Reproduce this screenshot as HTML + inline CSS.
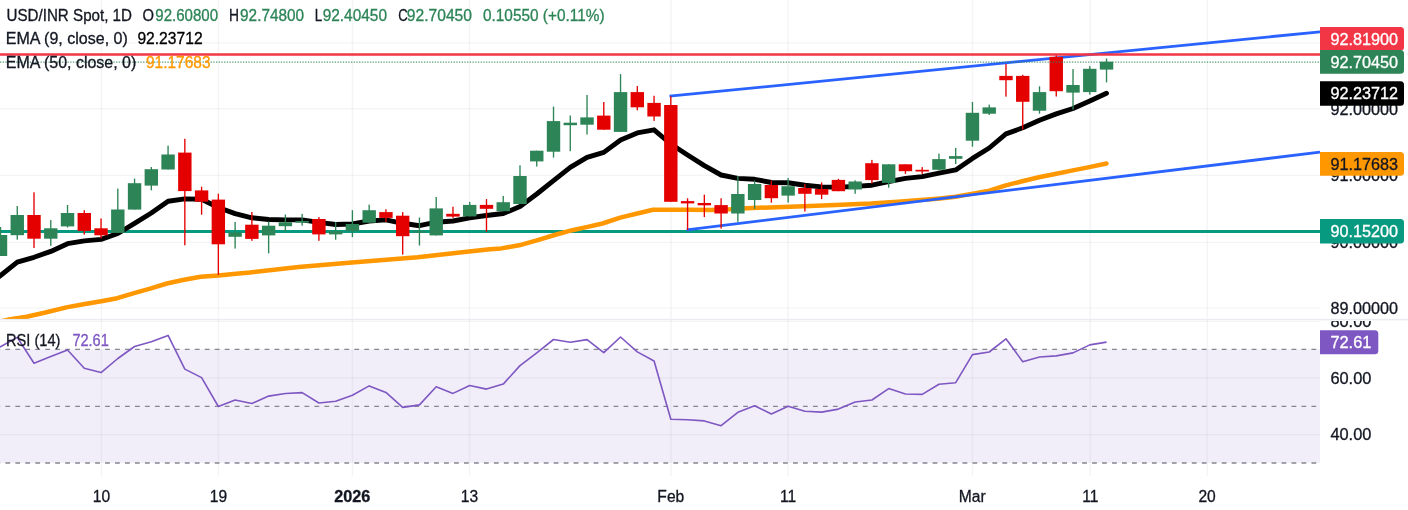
<!DOCTYPE html>
<html><head><meta charset="utf-8"><title>USD/INR Spot chart</title>
<style>html,body{margin:0;padding:0;background:#fff;width:1408px;height:510px;overflow:hidden}
svg{display:block;font-family:"Liberation Sans",sans-serif;will-change:transform}</style></head><body>
<svg width="1408" height="510" viewBox="0 0 1408 510">
<defs>
<clipPath id="cm"><rect x="0" y="0" width="1320" height="319.3"/></clipPath>
<clipPath id="cr"><rect x="0" y="321" width="1320" height="155"/></clipPath>
<clipPath id="cra"><rect x="1320" y="321" width="88" height="155"/></clipPath>
<clipPath id="cma"><rect x="1320" y="0" width="88" height="319.3"/></clipPath>
</defs>
<rect x="0" y="0" width="1408" height="510" fill="#fff"/>
<g stroke="#2a2e39" stroke-opacity="0.05" stroke-width="1.4">
<line x1="101.4" y1="0" x2="101.4" y2="476"/>
<line x1="218.4" y1="0" x2="218.4" y2="476"/>
<line x1="352.4" y1="0" x2="352.4" y2="476"/>
<line x1="469.5" y1="0" x2="469.5" y2="476"/>
<line x1="671" y1="0" x2="671" y2="476"/>
<line x1="788" y1="0" x2="788" y2="476"/>
<line x1="972.4" y1="0" x2="972.4" y2="476"/>
<line x1="1090.3" y1="0" x2="1090.3" y2="476"/>
<line x1="1207.2" y1="0" x2="1207.2" y2="476"/>
<line x1="0" y1="42.9" x2="1320" y2="42.9"/>
<line x1="0" y1="108.8" x2="1320" y2="108.8"/>
<line x1="0" y1="175.4" x2="1320" y2="175.4"/>
<line x1="0" y1="242.4" x2="1320" y2="242.4"/>
<line x1="0" y1="308.1" x2="1320" y2="308.1"/>
</g>
<g clip-path="url(#cr)">
<rect x="0" y="349.3" width="1320" height="113.6" fill="#7e57c2" fill-opacity="0.1"/>
<g stroke="#2a2e39" stroke-opacity="0.05" stroke-width="1.4">
<line x1="0" y1="321.4" x2="1320" y2="321.4"/>
<line x1="0" y1="378" x2="1320" y2="378"/>
<line x1="0" y1="434.6" x2="1320" y2="434.6"/>
</g>
<g stroke="#787b86" stroke-opacity="0.9" stroke-width="1.35" stroke-dasharray="4.8 5.17" stroke-dashoffset="4.6">
<line x1="0" y1="349.4" x2="1320" y2="349.4"/>
<line x1="0" y1="406.3" x2="1320" y2="406.3"/>
<line x1="0" y1="463" x2="1320" y2="463"/>
</g>
<polyline points="-16,352 0.5,346.8 17.26,337.4 34.02,363.2 50.77,356.6 67.53,350 84.29,368.3 101.05,372.6 117.81,358.5 134.56,346.5 151.32,341.8 168.08,335.4 184.84,369.1 201.6,377.6 218.35,406.5 235.11,400 251.87,403.5 268.63,396.1 285.39,393.5 302.14,392.6 318.9,403 335.66,401.2 352.42,395.2 369.18,385.9 385.93,392.4 402.69,407.4 419.45,404.9 436.21,386.8 452.97,393.4 469.72,385.5 486.48,389.1 503.24,384.1 520,365.6 536.76,352.8 553.51,339.5 570.27,342.3 587.03,339.6 603.79,352.7 620.55,337 637.3,351.9 654.06,361 670.82,419.2 687.58,419.8 704.34,420.9 721.09,425.7 737.85,412.3 754.61,405.8 771.37,414 788.13,406.3 804.88,411.2 821.64,412.1 838.4,409.1 855.16,402 871.92,400 888.67,388.6 905.43,394 922.19,394.4 938.95,384.3 955.71,382.7 972.46,354.6 989.22,352 1005.98,338.8 1022.74,361.7 1039.5,357 1056.25,355.9 1073.01,352.9 1089.77,344.9 1106.53,342.1" fill="none" stroke="#7e57c2" stroke-width="1.6" stroke-linejoin="round"/>
</g>
<g clip-path="url(#cm)">
<line x1="0" y1="231.5" x2="1320" y2="231.5" stroke="#089981" stroke-width="2.8"/>
<polyline points="0,321.5 8.9,319.5 26.6,316.7 44.4,312.8 67.5,307.1 83.5,304.3 101.2,301.3 117.2,298.2 134.9,292.9 150.9,288.3 166.9,283.5 182.9,280 200.6,276.8 218.4,275.5 236.1,273.7 250,272.5 298.6,267.1 351.9,262.5 417.6,257.2 469,251.5 490,249.2 501.3,248.4 519.1,245.3 536.8,240.4 554.6,235 572.3,230.2 586.5,227.1 602.5,223.5 620.3,217.6 636.2,213.7 653.1,209.8 670,209.8 689.5,209.8 710.8,209.9 730,209.2 746.6,208.2 769.7,207.4 803.5,206.3 835.4,205 870.9,203.6 897.6,201.7 927.7,199.5 940,198.4 955.5,196.7 972.9,193.6 989.4,190.6 1005.8,185.4 1022.3,181.2 1038.8,177.3 1055.2,174 1072.8,170.4 1089.3,167.1 1106.5,163.5" fill="none" stroke="#ff9800" stroke-width="4.5" stroke-linejoin="round" stroke-linecap="round"/>
<polyline points="-16,288 0.5,275.5 17.26,262.2 34.02,257.3 50.77,251.4 67.53,243.7 84.29,240.9 101.05,239.4 117.81,233.5 134.56,223.3 151.32,213 168.08,201.3 184.84,198.9 201.6,199.2 218.35,207.5 235.11,213.6 251.87,217.8 268.63,219.5 285.39,219.9 302.14,219.9 318.9,222.4 335.66,224.5 352.42,224 369.18,221 385.93,219.9 402.69,223.3 419.45,225.7 436.21,222.2 452.97,221 469.72,217.8 486.48,215.5 503.24,213.5 520,206.6 536.76,194 553.51,180.6 570.27,167.4 587.03,157.3 603.79,152.4 620.55,140 637.3,132.9 654.06,129.8 670.82,144 687.58,155 704.34,165.6 721.09,175 737.85,178.4 754.61,179.3 771.37,182.5 788.13,182.8 804.88,185.2 821.64,186.9 838.4,187.3 855.16,186.4 871.92,185.2 888.67,181.6 905.43,178.4 922.19,176.6 938.95,173.1 955.71,169.9 972.46,158.4 989.22,148 1005.98,133.9 1022.74,127.8 1039.5,120.3 1056.25,113.9 1073.01,108.5 1089.77,101 1106.53,93.2" fill="none" stroke="#000" stroke-width="4.9" stroke-linejoin="round" stroke-linecap="round"/>
<line x1="669.5" y1="96.2" x2="1320" y2="31.8" stroke="#2962ff" stroke-width="2.8"/>
<line x1="686.7" y1="229.9" x2="1320" y2="152.1" stroke="#2962ff" stroke-width="2.8"/>
<rect x="-0.18" y="227" width="1.35" height="29" fill="#2d8456"/>
<rect x="-6.2" y="235" width="13.4" height="21" fill="#2d8456"/>
<rect x="16.58" y="206" width="1.35" height="33.7" fill="#2d8456"/>
<rect x="10.56" y="215" width="13.4" height="20.2" fill="#2d8456"/>
<rect x="33.34" y="192.3" width="1.35" height="55.7" fill="#e50000"/>
<rect x="27.32" y="215" width="13.4" height="23.7" fill="#e50000"/>
<rect x="50.1" y="220.1" width="1.35" height="25.7" fill="#2d8456"/>
<rect x="44.07" y="228.3" width="13.4" height="10.4" fill="#2d8456"/>
<rect x="66.86" y="205" width="1.35" height="22.5" fill="#2d8456"/>
<rect x="60.83" y="213" width="13.4" height="13.4" fill="#2d8456"/>
<rect x="83.61" y="210.2" width="1.35" height="24.4" fill="#e50000"/>
<rect x="77.59" y="213" width="13.4" height="17.9" fill="#e50000"/>
<rect x="100.37" y="218.4" width="1.35" height="20" fill="#e50000"/>
<rect x="94.35" y="228.3" width="13.4" height="7" fill="#e50000"/>
<rect x="117.13" y="188.6" width="1.35" height="44.3" fill="#2d8456"/>
<rect x="111.11" y="209.5" width="13.4" height="23.4" fill="#2d8456"/>
<rect x="133.89" y="178.6" width="1.35" height="31" fill="#2d8456"/>
<rect x="127.86" y="183.2" width="13.4" height="26.4" fill="#2d8456"/>
<rect x="150.65" y="167" width="1.35" height="23.3" fill="#2d8456"/>
<rect x="144.62" y="169.2" width="13.4" height="16.4" fill="#2d8456"/>
<rect x="167.4" y="145.7" width="1.35" height="23.8" fill="#2d8456"/>
<rect x="161.38" y="154.5" width="13.4" height="15" fill="#2d8456"/>
<rect x="184.16" y="138.8" width="1.35" height="106.5" fill="#e50000"/>
<rect x="178.14" y="152.6" width="13.4" height="38.5" fill="#e50000"/>
<rect x="200.92" y="186.7" width="1.35" height="28" fill="#e50000"/>
<rect x="194.9" y="190.4" width="13.4" height="11.3" fill="#e50000"/>
<rect x="217.68" y="193.7" width="1.35" height="81.3" fill="#e50000"/>
<rect x="211.65" y="199.6" width="13.4" height="44.7" fill="#e50000"/>
<rect x="234.44" y="222" width="1.35" height="26.6" fill="#2d8456"/>
<rect x="228.41" y="232.5" width="13.4" height="4.3" fill="#2d8456"/>
<rect x="251.19" y="212" width="1.35" height="28.8" fill="#e50000"/>
<rect x="245.17" y="224.7" width="13.4" height="14.2" fill="#e50000"/>
<rect x="267.95" y="221.4" width="1.35" height="31.9" fill="#2d8456"/>
<rect x="261.93" y="225.7" width="13.4" height="9.7" fill="#2d8456"/>
<rect x="284.71" y="214.5" width="1.35" height="17.7" fill="#2d8456"/>
<rect x="278.69" y="222.3" width="13.4" height="3.9" fill="#2d8456"/>
<rect x="301.47" y="213.9" width="1.35" height="11.8" fill="#2d8456"/>
<rect x="295.44" y="221" width="13.4" height="1.7" fill="#2d8456"/>
<rect x="318.23" y="217.1" width="1.35" height="23.7" fill="#e50000"/>
<rect x="312.2" y="219" width="13.4" height="15.4" fill="#e50000"/>
<rect x="334.98" y="222" width="1.35" height="17.7" fill="#2d8456"/>
<rect x="328.96" y="231.1" width="13.4" height="3.3" fill="#2d8456"/>
<rect x="351.74" y="210.2" width="1.35" height="27" fill="#2d8456"/>
<rect x="345.72" y="224" width="13.4" height="7.1" fill="#2d8456"/>
<rect x="368.5" y="204.6" width="1.35" height="18.1" fill="#2d8456"/>
<rect x="362.48" y="210.2" width="13.4" height="12.5" fill="#2d8456"/>
<rect x="385.26" y="209.3" width="1.35" height="12.5" fill="#e50000"/>
<rect x="379.23" y="212.1" width="13.4" height="5.8" fill="#e50000"/>
<rect x="402.02" y="212.1" width="1.35" height="42.5" fill="#e50000"/>
<rect x="395.99" y="215.7" width="13.4" height="20.5" fill="#e50000"/>
<rect x="418.77" y="217.5" width="1.35" height="28" fill="#2d8456"/>
<rect x="412.75" y="231.2" width="13.4" height="1.3" fill="#2d8456"/>
<rect x="435.53" y="197" width="1.35" height="38.4" fill="#2d8456"/>
<rect x="429.51" y="208.4" width="13.4" height="27" fill="#2d8456"/>
<rect x="452.29" y="206.7" width="1.35" height="11.2" fill="#e50000"/>
<rect x="446.27" y="213.8" width="13.4" height="2.8" fill="#e50000"/>
<rect x="469.05" y="201.9" width="1.35" height="14.5" fill="#2d8456"/>
<rect x="463.02" y="204.9" width="13.4" height="11.5" fill="#2d8456"/>
<rect x="485.81" y="199.1" width="1.35" height="32.8" fill="#e50000"/>
<rect x="479.78" y="204.9" width="13.4" height="3.9" fill="#e50000"/>
<rect x="502.56" y="195.9" width="1.35" height="15.3" fill="#2d8456"/>
<rect x="496.54" y="202.2" width="13.4" height="9" fill="#2d8456"/>
<rect x="519.32" y="165.3" width="1.35" height="38.7" fill="#2d8456"/>
<rect x="513.3" y="176" width="13.4" height="28" fill="#2d8456"/>
<rect x="536.08" y="150.7" width="1.35" height="15.8" fill="#2d8456"/>
<rect x="530.06" y="150.7" width="13.4" height="10.7" fill="#2d8456"/>
<rect x="552.84" y="106.6" width="1.35" height="51" fill="#2d8456"/>
<rect x="546.81" y="121.1" width="13.4" height="30.6" fill="#2d8456"/>
<rect x="569.6" y="115.5" width="1.35" height="35.7" fill="#2d8456"/>
<rect x="563.57" y="122.7" width="13.4" height="2.5" fill="#2d8456"/>
<rect x="586.36" y="95" width="1.35" height="39.5" fill="#2d8456"/>
<rect x="580.33" y="117.4" width="13.4" height="7.3" fill="#2d8456"/>
<rect x="603.11" y="102" width="1.35" height="27.7" fill="#e50000"/>
<rect x="597.09" y="115.6" width="13.4" height="14.1" fill="#e50000"/>
<rect x="619.87" y="74.1" width="1.35" height="57.8" fill="#2d8456"/>
<rect x="613.85" y="92.1" width="13.4" height="39.8" fill="#2d8456"/>
<rect x="636.63" y="86.1" width="1.35" height="24.2" fill="#e50000"/>
<rect x="630.6" y="92.1" width="13.4" height="15.2" fill="#e50000"/>
<rect x="653.39" y="95.8" width="1.35" height="25.1" fill="#e50000"/>
<rect x="647.36" y="102.9" width="13.4" height="13.6" fill="#e50000"/>
<rect x="670.14" y="96.2" width="1.35" height="105.6" fill="#e50000"/>
<rect x="664.12" y="105" width="13.4" height="96.8" fill="#e50000"/>
<rect x="686.9" y="198.3" width="1.35" height="31.7" fill="#e50000"/>
<rect x="680.88" y="201.1" width="13.4" height="2.3" fill="#e50000"/>
<rect x="703.66" y="194.7" width="1.35" height="22.4" fill="#e50000"/>
<rect x="697.64" y="203" width="13.4" height="2.3" fill="#e50000"/>
<rect x="720.42" y="198.3" width="1.35" height="30.3" fill="#e50000"/>
<rect x="714.39" y="205.1" width="13.4" height="8.4" fill="#e50000"/>
<rect x="737.18" y="176" width="1.35" height="45.8" fill="#2d8456"/>
<rect x="731.15" y="194" width="13.4" height="19.5" fill="#2d8456"/>
<rect x="753.94" y="180.6" width="1.35" height="28.2" fill="#2d8456"/>
<rect x="747.91" y="184" width="13.4" height="16" fill="#2d8456"/>
<rect x="770.69" y="180.6" width="1.35" height="22" fill="#e50000"/>
<rect x="764.67" y="185" width="13.4" height="13.2" fill="#e50000"/>
<rect x="787.45" y="178" width="1.35" height="24.6" fill="#2d8456"/>
<rect x="781.43" y="186.2" width="13.4" height="9.4" fill="#2d8456"/>
<rect x="804.21" y="184.1" width="1.35" height="27.4" fill="#e50000"/>
<rect x="798.18" y="188" width="13.4" height="5.8" fill="#e50000"/>
<rect x="820.97" y="182.4" width="1.35" height="16.7" fill="#e50000"/>
<rect x="814.94" y="189" width="13.4" height="5.7" fill="#e50000"/>
<rect x="837.73" y="178.8" width="1.35" height="12.4" fill="#e50000"/>
<rect x="831.7" y="179.9" width="13.4" height="11.3" fill="#e50000"/>
<rect x="854.48" y="180.3" width="1.35" height="13.5" fill="#2d8456"/>
<rect x="848.46" y="181.5" width="13.4" height="8" fill="#2d8456"/>
<rect x="871.24" y="159.9" width="1.35" height="23.6" fill="#e50000"/>
<rect x="865.22" y="163.2" width="13.4" height="16.9" fill="#e50000"/>
<rect x="888" y="164.3" width="1.35" height="23.4" fill="#2d8456"/>
<rect x="881.97" y="164.3" width="13.4" height="18.6" fill="#2d8456"/>
<rect x="904.76" y="164.3" width="1.35" height="9.6" fill="#e50000"/>
<rect x="898.73" y="164.3" width="13.4" height="6.9" fill="#e50000"/>
<rect x="921.51" y="167.1" width="1.35" height="6.8" fill="#e50000"/>
<rect x="915.49" y="169.8" width="13.4" height="1.7" fill="#e50000"/>
<rect x="938.27" y="153.6" width="1.35" height="16.9" fill="#2d8456"/>
<rect x="932.25" y="159.1" width="13.4" height="10.7" fill="#2d8456"/>
<rect x="955.03" y="147.9" width="1.35" height="16.1" fill="#2d8456"/>
<rect x="949.01" y="156.1" width="13.4" height="2.7" fill="#2d8456"/>
<rect x="971.79" y="102" width="1.35" height="44.7" fill="#2d8456"/>
<rect x="965.76" y="112.8" width="13.4" height="27.9" fill="#2d8456"/>
<rect x="988.55" y="104.6" width="1.35" height="10.4" fill="#2d8456"/>
<rect x="982.52" y="107.4" width="13.4" height="6.3" fill="#2d8456"/>
<rect x="1005.3" y="64.1" width="1.35" height="32.5" fill="#e50000"/>
<rect x="999.28" y="75.9" width="13.4" height="4.3" fill="#e50000"/>
<rect x="1022.06" y="74.8" width="1.35" height="54.6" fill="#e50000"/>
<rect x="1016.04" y="75.9" width="13.4" height="25.9" fill="#e50000"/>
<rect x="1038.82" y="86.3" width="1.35" height="27.4" fill="#2d8456"/>
<rect x="1032.8" y="92.1" width="13.4" height="18.6" fill="#2d8456"/>
<rect x="1055.58" y="55" width="1.35" height="41.5" fill="#e50000"/>
<rect x="1049.55" y="56.8" width="13.4" height="34.4" fill="#e50000"/>
<rect x="1072.34" y="69.1" width="1.35" height="40.6" fill="#2d8456"/>
<rect x="1066.31" y="85" width="13.4" height="7.6" fill="#2d8456"/>
<rect x="1089.1" y="66.1" width="1.35" height="28.6" fill="#2d8456"/>
<rect x="1083.07" y="68.8" width="13.4" height="23.3" fill="#2d8456"/>
<rect x="1105.85" y="58.5" width="1.35" height="23.9" fill="#2d8456"/>
<rect x="1099.83" y="61.7" width="13.4" height="7.9" fill="#2d8456"/>
<line x1="0" y1="62.1" x2="1320" y2="62.1" stroke="#2d8456" stroke-opacity="0.8" stroke-width="1.3" stroke-dasharray="1.3 1.4"/>
<line x1="0" y1="54.5" x2="1320" y2="54.5" stroke="#f23645" stroke-width="2.6"/>
</g>
<rect x="0" y="318.9" width="1408" height="1.4" fill="#e9ebf1"/>
<text x="6.5" y="20.7" font-size="15.6" fill="#131722" stroke="#131722" stroke-width="0.3" textLength="125.5" lengthAdjust="spacingAndGlyphs">USD/INR Spot, 1D</text>
<text x="142.6" y="20.7" font-size="15.6" fill="#131722" stroke="#131722" stroke-width="0.3" textLength="11.5" lengthAdjust="spacingAndGlyphs">O</text>
<text x="155.3" y="20.7" font-size="15.6" fill="#2d8456" stroke="#2d8456" stroke-width="0.3" textLength="62.8" lengthAdjust="spacingAndGlyphs">92.60800</text>
<text x="229.1" y="20.7" font-size="15.6" fill="#131722" stroke="#131722" stroke-width="0.3" textLength="10" lengthAdjust="spacingAndGlyphs">H</text>
<text x="240.1" y="20.7" font-size="15.6" fill="#2d8456" stroke="#2d8456" stroke-width="0.3" textLength="63.9" lengthAdjust="spacingAndGlyphs">92.74800</text>
<text x="314.8" y="20.7" font-size="15.6" fill="#131722" stroke="#131722" stroke-width="0.3" textLength="7.5" lengthAdjust="spacingAndGlyphs">L</text>
<text x="322.7" y="20.7" font-size="15.6" fill="#2d8456" stroke="#2d8456" stroke-width="0.3" textLength="64.3" lengthAdjust="spacingAndGlyphs">92.40450</text>
<text x="398.2" y="20.7" font-size="15.6" fill="#131722" stroke="#131722" stroke-width="0.3" textLength="9.5" lengthAdjust="spacingAndGlyphs">C</text>
<text x="406.8" y="20.7" font-size="15.6" fill="#2d8456" stroke="#2d8456" stroke-width="0.3" textLength="65.2" lengthAdjust="spacingAndGlyphs">92.70450</text>
<text x="483" y="20.7" font-size="15.6" fill="#2d8456" stroke="#2d8456" stroke-width="0.3" textLength="121.5" lengthAdjust="spacingAndGlyphs">0.10550 (+0.11%)</text>
<text x="5.8" y="44.1" font-size="15.6" fill="#131722" stroke="#131722" stroke-width="0.3" textLength="122" lengthAdjust="spacingAndGlyphs">EMA (9, close, 0)</text>
<text x="137.4" y="44.1" font-size="15.6" fill="#000" stroke="#000" stroke-width="0.3" textLength="65.2" lengthAdjust="spacingAndGlyphs">92.23712</text>
<text x="5.8" y="67.6" font-size="15.6" fill="#131722" stroke="#131722" stroke-width="0.3" textLength="130.5" lengthAdjust="spacingAndGlyphs">EMA (50, close, 0)</text>
<text x="146" y="67.6" font-size="15.6" fill="#ff9800" stroke="#ff9800" stroke-width="0.3" textLength="64.5" lengthAdjust="spacingAndGlyphs">91.17683</text>
<text x="6" y="346.3" font-size="15.6" fill="#131722" stroke="#131722" stroke-width="0.3" textLength="54.5" lengthAdjust="spacingAndGlyphs">RSI (14)</text>
<text x="72.4" y="346.3" font-size="15.6" fill="#7e57c2" stroke="#7e57c2" stroke-width="0.3" textLength="36.4" lengthAdjust="spacingAndGlyphs">72.61</text>
<g clip-path="url(#cma)">
<text x="1330.4" y="48.35" font-size="15.6" fill="#131722" stroke="#131722" stroke-width="0.3" textLength="67.6" lengthAdjust="spacingAndGlyphs">93.00000</text>
<text x="1330.4" y="114.55" font-size="15.6" fill="#131722" stroke="#131722" stroke-width="0.3" textLength="67.6" lengthAdjust="spacingAndGlyphs">92.00000</text>
<text x="1330.4" y="181.15" font-size="15.6" fill="#131722" stroke="#131722" stroke-width="0.3" textLength="67.6" lengthAdjust="spacingAndGlyphs">91.00000</text>
<text x="1330.4" y="247.95" font-size="15.6" fill="#131722" stroke="#131722" stroke-width="0.3" textLength="67.6" lengthAdjust="spacingAndGlyphs">90.00000</text>
<text x="1330.4" y="313.85" font-size="15.6" fill="#131722" stroke="#131722" stroke-width="0.3" textLength="67.6" lengthAdjust="spacingAndGlyphs">89.00000</text>
</g>
<g clip-path="url(#cra)">
<text x="1330.4" y="327.35" font-size="15.6" fill="#131722" stroke="#131722" stroke-width="0.3" textLength="41" lengthAdjust="spacingAndGlyphs">80.00</text>
<text x="1330.4" y="383.55" font-size="15.6" fill="#131722" stroke="#131722" stroke-width="0.3" textLength="41" lengthAdjust="spacingAndGlyphs">60.00</text>
<text x="1330.4" y="440.35" font-size="15.6" fill="#131722" stroke="#131722" stroke-width="0.3" textLength="41" lengthAdjust="spacingAndGlyphs">40.00</text>
</g>
<path d="M1320,27.1 H1400.5 A3.5,3.5 0 0 1 1404,30.6 V47 A3.5,3.5 0 0 1 1400.5,50.5 H1320 Z" fill="#f23645"/>
<text x="1330.4" y="44.55" font-size="15.6" fill="#fff" stroke="#fff" stroke-width="0.3" textLength="67.6" lengthAdjust="spacingAndGlyphs">92.81900</text>
<path d="M1320,50 H1400.5 A3.5,3.5 0 0 1 1404,53.5 V70.3 A3.5,3.5 0 0 1 1400.5,73.8 H1320 Z" fill="#2d8456"/>
<text x="1330.4" y="67.65" font-size="15.6" fill="#fff" stroke="#fff" stroke-width="0.3" textLength="67.6" lengthAdjust="spacingAndGlyphs">92.70450</text>
<path d="M1320,81.3 H1400.5 A3.5,3.5 0 0 1 1404,84.8 V102.2 A3.5,3.5 0 0 1 1400.5,105.7 H1320 Z" fill="#000"/>
<text x="1330.4" y="99.25" font-size="15.6" fill="#fff" stroke="#fff" stroke-width="0.3" textLength="67.6" lengthAdjust="spacingAndGlyphs">92.23712</text>
<path d="M1320,152 H1400.5 A3.5,3.5 0 0 1 1404,155.5 V172.3 A3.5,3.5 0 0 1 1400.5,175.8 H1320 Z" fill="#ff9800"/>
<text x="1330.4" y="169.65" font-size="15.6" fill="#131722" stroke="#131722" stroke-width="0.3" textLength="67.6" lengthAdjust="spacingAndGlyphs">91.17683</text>
<path d="M1320,219 H1400.5 A3.5,3.5 0 0 1 1404,222.5 V240.1 A3.5,3.5 0 0 1 1400.5,243.6 H1320 Z" fill="#089981"/>
<text x="1330.4" y="237.05" font-size="15.6" fill="#fff" stroke="#fff" stroke-width="0.3" textLength="67.6" lengthAdjust="spacingAndGlyphs">90.15200</text>
<path d="M1320,330.2 H1374.8 A3.5,3.5 0 0 1 1378.3,333.7 V350.7 A3.5,3.5 0 0 1 1374.8,354.2 H1320 Z" fill="#7e57c2"/>
<text x="1330.4" y="347.95" font-size="15.6" fill="#fff" stroke="#fff" stroke-width="0.3" textLength="41" lengthAdjust="spacingAndGlyphs">72.61</text>
<text x="101.4" y="502.2" font-size="15.6" fill="#131722" stroke="#131722" stroke-width="0.3" text-anchor="middle">10</text>
<text x="218.4" y="502.2" font-size="15.6" fill="#131722" stroke="#131722" stroke-width="0.3" text-anchor="middle">19</text>
<text x="352.3" y="502.2" font-size="15.6" fill="#131722" stroke="#131722" stroke-width="0.3" font-weight="bold" textLength="36.2" lengthAdjust="spacingAndGlyphs" text-anchor="middle">2026</text>
<text x="469.5" y="502.2" font-size="15.6" fill="#131722" stroke="#131722" stroke-width="0.3" text-anchor="middle">13</text>
<text x="670.8" y="502.2" font-size="15.6" fill="#131722" stroke="#131722" stroke-width="0.3" text-anchor="middle">Feb</text>
<text x="788" y="502.2" font-size="15.6" fill="#131722" stroke="#131722" stroke-width="0.3" text-anchor="middle">11</text>
<text x="972.3" y="502.2" font-size="15.6" fill="#131722" stroke="#131722" stroke-width="0.3" text-anchor="middle">Mar</text>
<text x="1090.3" y="502.2" font-size="15.6" fill="#131722" stroke="#131722" stroke-width="0.3" text-anchor="middle">11</text>
<text x="1207.1" y="502.2" font-size="15.6" fill="#131722" stroke="#131722" stroke-width="0.3" text-anchor="middle">20</text>
</svg>
</body></html>
